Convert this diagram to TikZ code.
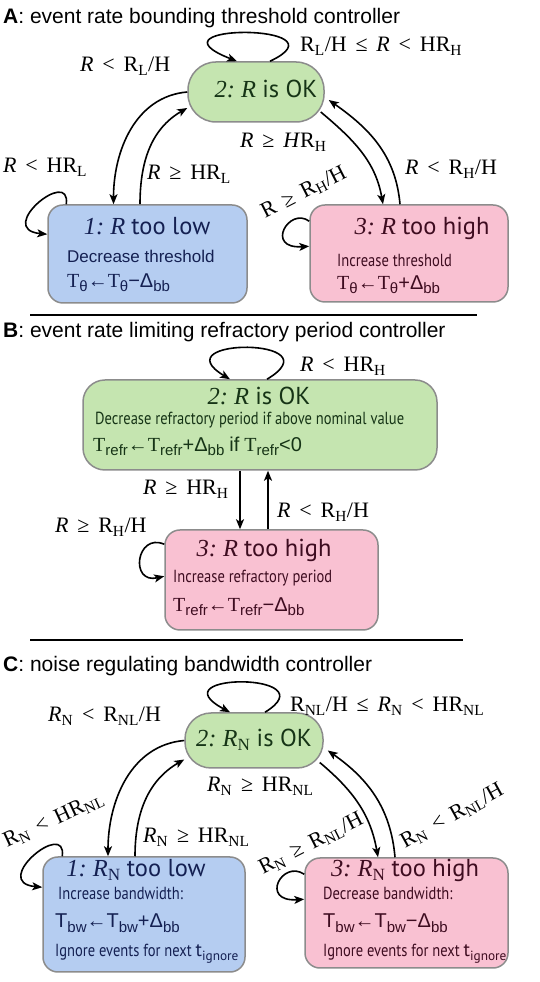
\documentclass[tikz,border=0pt]{standalone}
\usepackage{fontspec}
\setmainfont{Liberation Serif}
\newfontfamily\titlefont{Liberation Sans}
\newfontfamily\boxfont{PT Sans}
\newfontfamily\narrowfont[FakeStretch=0.83]{PT Sans}
\newfontfamily\symfont{Liberation Sans}
\usetikzlibrary{arrows.meta}

\definecolor{okfill}{RGB}{197,229,176}
\definecolor{lowfill}{RGB}{181,205,241}
\definecolor{highfill}{RGB}{249,193,210}
\definecolor{boxline}{RGB}{140,140,140}
\definecolor{oktext}{RGB}{22,52,22}
\definecolor{lowtext}{RGB}{20,32,82}
\definecolor{hightext}{RGB}{62,12,32}

\newcommand{\Rt}{\textit{R}}
\newcommand{\lo}[1]{\textsubscript{#1}}
\newcommand{\Rn}{\textit{R}\lo{N}}
\newcommand{\gsym}[1]{{\symfont #1}}
\newcommand{\gap}{\hspace{0.4em}}
% subscripts of the update rules
\newcommand{\dn}[1]{\raisebox{-0.4ex}{\symfont\fontsize{15}{16}\selectfont #1}}

\begin{document}
\begin{tikzpicture}[x=1pt,y=1pt,
    box/.style={draw=boxline, line width=1.5pt, inner sep=0pt},
    okbox/.style={box, fill=okfill},
    lowbox/.style={box, fill=lowfill, rounded corners=15pt},
    highbox/.style={box, fill=highfill, rounded corners=15pt},
    cond/.style={anchor=base west, inner sep=0pt, font=\fontsize{22}{25}\selectfont},
    head/.style={anchor=base west, inner sep=0pt, font=\titlefont\fontsize{21}{24}\selectfont},
    boxtitle/.style={anchor=base, inner sep=0pt, font=\fontsize{24.5}{28}\selectfont},
    boxtxt/.style={anchor=base west, inner sep=0pt},
    smalltxt/.style={boxtxt, font=\narrowfont\fontsize{17.5}{20}\selectfont},
    rule/.style={boxtxt, font=\fontsize{20}{23}\selectfont},
    arr/.style={line width=1.6pt, -{Stealth[length=10pt,width=8pt,inset=2.5pt]}},
    sep/.style={line width=2pt}]
    \useasboundingbox (0,0) rectangle (539,982);

    % A: threshold controller
    \node[head] (headA) at (3,958) {\textbf{A}: event rate bounding threshold controller};
    \node[okbox, rounded corners=28pt, minimum width=136pt, minimum height=60pt] (A2) at (256,890) {};
    \node[lowbox, minimum width=199pt, minimum height=98pt] (A1) at (147.5,728) {};
    \node[highbox, minimum width=198pt, minimum height=97pt] (A3) at (409,728.5) {};

    \node[boxtitle, text=oktext] (A2t) at (266,884) {\textit{2:~R} {\boxfont is OK}};
    \node[boxtitle, text=lowtext] (A1t) at (147,747) {\textit{1:~R} {\boxfont too low}};
    \node[boxtxt, text=lowtext, font=\titlefont\fontsize{17}{20}\selectfont] (A1a) at (67,719) {Decrease threshold};
    \node[rule, text=lowtext] (A1b) at (67,694) {T\dn{θ}\gsym{←}T\dn{θ}\gsym{−Δ}\dn{bb}};
    \node[boxtitle, text=hightext] (A3t) at (422,747) {\textit{3:~R} {\boxfont too high}};
    \node[smalltxt, text=hightext] (A3a) at (337,715) {Increase threshold};
    \node[rule, text=hightext] (A3b) at (337,692) {T\dn{θ}\gsym{←}T\dn{θ}\gsym{+Δ}\dn{bb}};

    % conditions
    \node[cond] (cA1) at (300,930) {R\lo{L}/H\gap≤\gap\Rt\gap<\gap HR\lo{H}};
    \node[cond] (cA2) at (80,910) {\Rt\gap<\gap R\lo{L}/H};
    \node[cond] (cA3) at (240,834) {\Rt\gap≥\gap\textit{H}R\lo{H}};
    \node[cond] (cA4) at (3,809) {\Rt\gap<\gap HR\lo{L}};
    \node[cond] (cA5) at (147,802) {\Rt\gap≥\gap HR\lo{L}};
    \node[cond] (cA6) at (405,807) {\Rt\gap<\gap R\lo{H}/H};
    \node[cond, rotate=27] (cA7) at (265,763) {R\gap≥\gap R\lo{H}/H};

    % transitions
    \draw[arr] ([xshift=14pt]A2.north) .. controls +(80,38) and +(-97,38) .. ([xshift=-19pt]A2.north);
    \draw[arr] (A2.west) to[out=185,in=90] ([xshift=-34pt]A1.north);
    \draw[arr] ([xshift=-7.5pt]A1.north) to[out=90,in=210] ([yshift=-16pt]A2.west);
    \draw[arr] ([xshift=-4pt,yshift=-20pt]A2.east) to[out=-40,in=100] ([xshift=-26pt]A3.north);
    \draw[arr] ([xshift=-9pt]A3.north) to[out=95,in=-35] ([xshift=4pt,yshift=-8pt]A2.east);
    \draw[arr] ([xshift=19pt]A1.north west) .. controls +(5,38) and +(-53,5) .. ([yshift=-30pt]A1.north west);
    \draw[arr] ([yshift=-17pt]A3.north west) .. controls +(-20,15) and +(-45,-3) .. ([yshift=-42pt]A3.north west);

    \draw[sep] (30,667) -- (477,667);

    % B: refractory period controller
    \node[head] (headB) at (3,644) {\textbf{B}: event rate limiting refractory period controller};
    \node[okbox, rounded corners=22pt, minimum width=354pt, minimum height=90pt] (B2) at (260,557) {};
    \node[highbox, minimum width=213pt, minimum height=100pt] (B3) at (271.5,402) {};

    \node[boxtitle, text=oktext] (B2t) at (259,577) {\textit{2:~R} {\boxfont is OK}};
    \node[smalltxt, text=oktext] (B2a) at (95,557) {Decrease refractory period if above nominal value};
    \node[rule, text=oktext] (B2b) at (93,530) {T\dn{refr}\gsym{←}T\dn{refr}\gsym{+Δ}\dn{bb} \gsym{if} T\dn{refr}\gsym{<0}};
    \node[boxtitle, text=hightext] (B3t) at (264,425) {\textit{3:~R} {\boxfont too high}};
    \node[smalltxt, text=hightext] (B3a) at (173,399) {Increase refractory period};
    \node[rule, text=hightext] (B3b) at (173,370) {T\dn{refr}\gsym{←}T\dn{refr}\gsym{−Δ}\dn{bb}};

    \node[cond] (cB1) at (300,610) {\Rt\gap<\gap HR\lo{H}};
    \node[cond] (cB2) at (143,487) {\Rt\gap≥\gap HR\lo{H}};
    \node[cond] (cB3) at (277,464) {\Rt\gap<\gap R\lo{H}/H};
    \node[cond] (cB4) at (55,449) {\Rt\gap≥\gap R\lo{H}/H};

    \draw[arr] ([xshift=7pt]B2.north) .. controls +(70,42) and +(-70,42) .. ([xshift=-30pt]B2.north);
    \draw[arr] ([xshift=-20pt]B2.south) -- ([xshift=-31.5pt]B3.north);
    \draw[arr] ([xshift=-3.5pt]B3.north) -- ([xshift=8pt]B2.south);
    \draw[arr] ([yshift=-15pt]B3.north west) .. controls +(-28,12) and +(-35,-8) .. ([yshift=-47pt]B3.north west);

    \draw[sep] (30,342) -- (463,342);

    % C: bandwidth controller
    \node[head] (headC) at (3,310) {\textbf{C}: noise regulating bandwidth controller};
    \node[okbox, rounded corners=26pt, minimum width=138pt, minimum height=55pt] (C2) at (254,241.5) {};
    \node[lowbox, minimum width=202pt, minimum height=115pt] (C1) at (144,67.5) {};
    \node[highbox, minimum width=203pt, minimum height=110pt] (C3) at (406.5,69) {};

    \node[boxtitle, text=oktext] (C2t) at (254,235) {\textit{2:~}\Rn{} {\boxfont is OK}};
    \node[boxtitle, text=lowtext] (C1t) at (136,105) {\textit{1:~}\Rn{} {\boxfont too low}};
    \node[smalltxt, text=lowtext] (C1a) at (58,82) {Increase bandwidth:};
    \node[rule, text=lowtext, font=\symfont\fontsize{20}{23}\selectfont] (C1b) at (55,54) {T\dn{bw}←T\dn{bw}+Δ\dn{bb}};
    \node[smalltxt, text=lowtext] (C1c) at (55,25) {Ignore events for next {\boxfont\fontsize{19}{22}\selectfont t\lo{ignore}}};
    \node[boxtitle, text=hightext] (C3t) at (405,105) {\textit{3:~}\Rn{} {\boxfont too high}};
    \node[smalltxt, text=hightext] (C3a) at (323,82) {Decrease bandwidth:};
    \node[rule, text=hightext, font=\symfont\fontsize{20}{23}\selectfont] (C3b) at (323,54) {T\dn{bw}←T\dn{bw}−Δ\dn{bb}};
    \node[smalltxt, text=hightext] (C3c) at (323,25) {Ignore events for next {\boxfont\fontsize{19}{22}\selectfont t\lo{ignore}}};

    \node[cond] (cC1) at (290,270) {R\lo{NL}/H\gap≤\gap\Rn\gap<\gap HR\lo{NL}};
    \node[cond] (cC2) at (48,260) {\Rn\gap<\gap R\lo{NL}/H};
    \node[cond] (cC3) at (207,190) {\Rn\gap≥\gap HR\lo{NL}};
    \node[cond] (cC4) at (143,139) {\Rn\gap≥\gap HR\lo{NL}};
    \node[cond, rotate=25] (cC5) at (7,134) {R\lo{N}\gap<\gap HR\lo{NL}};
    \node[cond, rotate=27] (cC6) at (263,107) {R\lo{N}\gap≥\gap R\lo{NL}/H};
    \node[cond, rotate=29] (cC7) at (405,133) {R\lo{N}\gap<\gap R\lo{NL}/H};

    \draw[arr] ([xshift=11pt]C2.north) .. controls +(65,40) and +(-75,40) .. ([xshift=-24pt]C2.north);
    \draw[arr] (C2.west) to[out=185,in=90] ([xshift=-36pt]C1.north);
    \draw[arr] ([xshift=-9pt]C1.north) to[out=90,in=210] ([yshift=-19pt]C2.west);
    \draw[arr] ([xshift=-4pt,yshift=-22pt]C2.east) to[out=-40,in=100] ([xshift=-28.5pt]C3.north);
    \draw[arr] ([xshift=-11.5pt]C3.north) to[out=95,in=-35] ([xshift=4pt,yshift=-10pt]C2.east);
    \draw[arr] ([xshift=20pt]C1.north west) .. controls +(5,38) and +(-53,5) .. ([yshift=-31pt]C1.north west);
    \draw[arr] ([yshift=-17pt]C3.north west) .. controls +(-22,15) and +(-45,-3) .. ([yshift=-42pt]C3.north west);
\end{tikzpicture}
\end{document}
